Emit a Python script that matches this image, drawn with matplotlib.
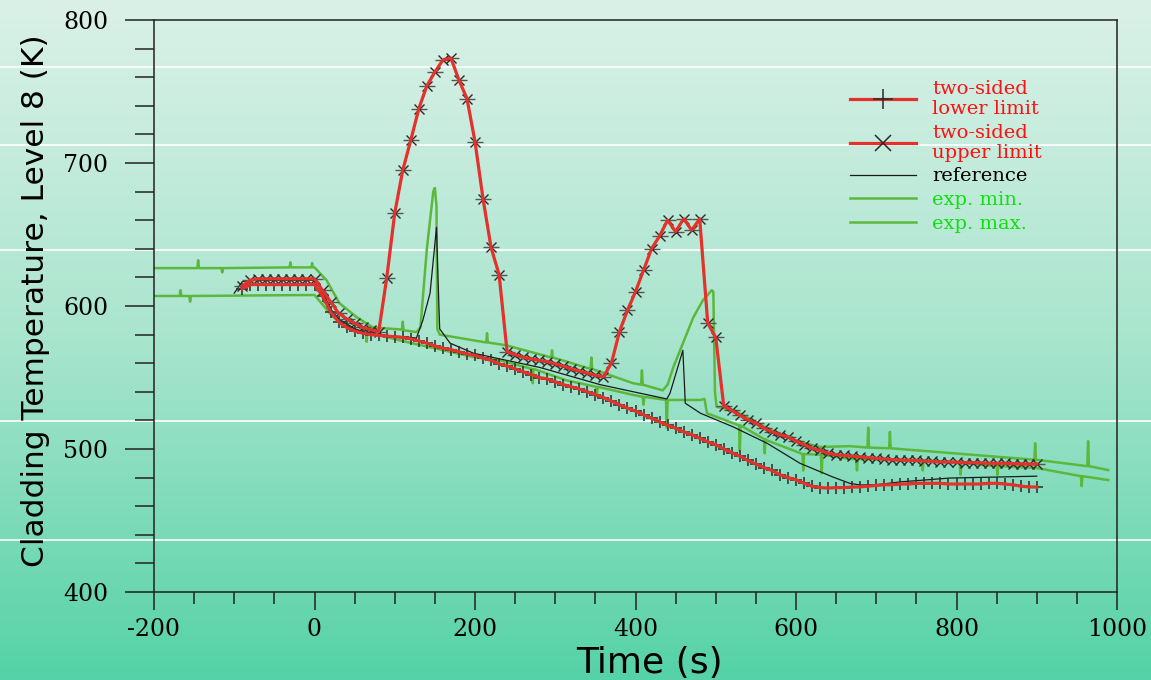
import numpy as np
import matplotlib
matplotlib.use("Agg")
import matplotlib.pyplot as plt
from matplotlib.lines import Line2D
from matplotlib.ticker import MultipleLocator
from matplotlib.colors import LinearSegmentedColormap

# ---- data ----
# two-sided limits, sampled every 10 s from -90 s to 900 s
lim_time = list(range(-90, 901, 10))
lower_limit = [
    612, 615, 615, 615, 615, 615, 615, 615, 615, 615,
    607, 596, 589, 585, 582.5, 581, 580, 579.5, 579, 578.5,
    578, 577, 575.5, 574, 572, 570.5, 569.5, 568, 566.5, 565.5,
    563.5, 562, 559.5, 558, 556, 554, 552, 550, 549, 547,
    545, 543.5, 542, 540, 538, 536, 533.5, 531, 528.5, 526.5,
    524, 521.5, 519, 516.5, 514.5, 512, 510, 507.5, 505, 503,
    500, 497.5, 495, 492, 489.5, 487, 485, 482, 480, 478.5,
    476, 474, 473, 472.7, 473, 473, 473.4, 473.5, 474, 474.5,
    475, 475, 475.5, 475.5, 476, 476, 476, 476, 475.5, 475.5,
    475.5, 475.5, 475.5, 476, 476, 475.5, 475, 474, 473.5, 473.4,
]
upper_limit = [
    614, 618, 619, 619, 619, 619, 619, 619, 619, 619,
    611, 603, 595, 591, 588, 585, 583.5, 582, 619.6, 665,
    695, 716, 738, 754, 763.6, 772, 773.4, 758, 745, 715,
    675, 641, 622, 568, 566, 564, 563, 562, 561, 559.5,
    558, 556, 554.5, 553, 551.5, 550.5, 560, 582, 597, 610,
    625, 640, 649, 660, 652, 661, 653, 661, 588, 578,
    530, 527, 523.5, 520.5, 518, 514.5, 512, 510, 508.5, 505.5,
    503, 500.5, 499, 497, 496, 495.5, 495, 494.5, 494, 493.5,
    493, 492.5, 492.3, 492, 492, 491.5, 491.3, 491, 491, 490.8,
    490.5, 490.5, 490.3, 490, 490, 490, 489.8, 489.6, 489.5, 489.5,
]

# reference calculation
ref_time = [-100, -90, -80, 0, 10, 20, 30, 50, 73, 100, 127, 135, 144, 152,
            155, 156, 169, 198, 231, 281, 356, 439, 443, 459, 461, 462, 481,
            522, 564, 605, 646, 667, 680, 700, 730, 792, 900]
ref_temp = [609, 617, 618, 618, 610, 598, 591, 584, 580, 579, 577.6, 590, 609, 655,
            600, 584, 574, 567, 563, 557, 545, 535, 539, 569, 545, 532, 525,
            515.4, 504, 490, 480.4, 476, 474.8, 475, 477, 479.7, 481]

# experiment, curve starting high (with its visible noise spikes)
expa_time = [-200, -146, -145, -144, -116, -115, -114, -31, -30, -29, -4, -3, -2,
             0, 15, 31, 53, 73, 109, 110, 111, 127, 132, 140, 148, 150, 152, 153,
             156, 198, 214, 215, 216, 239, 295, 296, 297, 344, 345, 346, 397,
             407, 408, 409, 434, 440, 447, 472, 484, 495, 497, 499, 501, 522,
             543, 564, 597, 630, 667, 689, 690, 691, 716, 717, 718, 792, 897,
             898, 899, 963, 964, 965, 989]
expa_temp = [626.5, 626.5, 632, 626.5, 626.5, 623.5, 626.5, 627, 630.5, 627, 627, 630, 627,
             627, 618, 602, 592, 585, 583.5, 589, 583, 581.8, 585, 640, 680, 682.5, 670, 584,
             580, 576, 574.5, 581, 574.5, 572.5, 564, 569, 564, 556, 564, 556, 546,
             545, 555, 545, 541, 545, 557, 592, 604, 611, 610, 540, 529.5, 527.3,
             521, 514.7, 506.3, 501.4, 502, 501, 515, 501, 500.5, 512, 500.5, 497.2, 492.5,
             504, 492.5, 488, 505.5, 488, 485.3]

# experiment, curve starting low
expb_time = [-200, -168, -167, -166, -156, -155, -154, 0, 23, 53, 64, 65, 66, 115,
             198, 231, 271, 272, 273, 314, 351, 352, 353, 397, 409, 410, 411,
             438, 439, 440, 481, 486, 489, 522, 529, 530, 531, 560, 561, 562,
             564, 605, 608, 609, 610, 631, 632, 633, 667, 675, 676, 677, 750,
             757, 758, 759, 804, 805, 806, 833, 850, 851, 852, 900, 955, 956,
             957, 989]
expb_temp = [607, 607, 611, 607, 607, 603, 607, 607.7, 592.3, 583, 581.5, 575, 581.5, 574.8,
             564.3, 562, 556, 546, 556, 548, 543.5, 537, 543.5, 537.8, 536.5, 531, 536.5,
             534.3, 515, 534.3, 534.3, 535, 525, 518, 516.5, 499, 516.5, 507, 497, 507,
             506, 497.2, 496.5, 485, 496.5, 496, 483, 496, 493, 493, 485, 493, 492.3,
             492, 485, 492, 490.5, 482, 490.5, 488.8, 488, 482, 488, 486.7, 481, 474,
             481, 478.3]

legend_labels = ["two-sided\nlower limit", "two-sided\nupper limit", "reference",
                 "exp. min.", "exp. max."]

RED = "#e4312b"
GREEN = "#5cb83c"
MARK = "#2a2a2a"

plt.rcParams["font.family"] = "DejaVu Serif"
plt.rcParams["axes.unicode_minus"] = False

W, H = 1151, 680
fig = plt.figure(figsize=(W / 100, H / 100), dpi=100)

# gradient backdrop with the faint white bands
bg = fig.add_axes([0, 0, 1, 1], zorder=0)
cmap = LinearSegmentedColormap.from_list("bg", ["#dbf1e8", "#a9e5ce", "#55d2a7"])
bg.imshow(np.linspace(0, 1, 256).reshape(-1, 1), aspect="auto", cmap=cmap,
          extent=[0, 1, 0, 1], origin="upper")
for ypx in [67, 145, 250, 421, 540]:
    bg.axhline(1 - ypx / H, color="white", lw=1.2)
bg.set_xlim(0, 1)
bg.set_ylim(0, 1)
bg.axis("off")

ax = fig.add_axes([154 / W, 1 - 592 / H, 963 / W, 572 / H], zorder=1)
ax.set_facecolor("none")

ax.plot(expa_time, expa_temp, color=GREEN, lw=1.8, zorder=2)
ax.plot(expb_time, expb_temp, color=GREEN, lw=1.8, zorder=2)
ax.plot(ref_time, ref_temp, color="#1a1a1a", lw=0.9, zorder=3)

ax.plot(lim_time, lower_limit, ls="none", marker="+", ms=9, mec=MARK, mew=1.1, zorder=4)
ax.plot(lim_time, upper_limit, ls="none", marker="_", ms=12, mec="#555555", mew=1.0, zorder=4)
ax.plot(lim_time, upper_limit, ls="none", marker="x", ms=7, mec=MARK, mew=1.0, zorder=4)
ax.plot(lim_time, lower_limit, color=RED, lw=2.3, zorder=5)
ax.plot(lim_time, upper_limit, color=RED, lw=2.3, zorder=5)

ax.set_xlim(-200, 1000)
ax.set_ylim(400, 800)
ax.set_xticks(range(-200, 1001, 200))
ax.set_yticks(range(400, 801, 100))
ax.xaxis.set_minor_locator(MultipleLocator(50))
ax.yaxis.set_minor_locator(MultipleLocator(20))
ax.tick_params(axis="both", which="both", direction="out", color="#222222",
               width=1.1, labelsize=17)
ax.tick_params(axis="y", which="major", length=21, pad=12)
ax.tick_params(axis="y", which="minor", length=14)
ax.tick_params(axis="x", which="major", length=13, pad=6)
ax.tick_params(axis="x", which="minor", length=8.5)
for side in ["left", "right", "top", "bottom"]:
    ax.spines[side].set_color("#222222")
    ax.spines[side].set_linewidth(1.1)

ax.set_ylabel("Cladding Temperature, Level 8 (K)", family="DejaVu Sans", size=22.5)
ax.yaxis.set_label_coords(-0.108, 0.509)
ax.set_xlabel("Time (s)", family="DejaVu Sans", size=26)
ax.xaxis.set_label_coords(0.514, -0.094)

handles = [
    Line2D([], [], color=RED, lw=2.3, marker="+", ms=15, mec=MARK, mew=1.1),
    Line2D([], [], color=RED, lw=2.3, marker="x", ms=11, mec=MARK, mew=1.1),
    Line2D([], [], color="#1a1a1a", lw=0.9),
    Line2D([], [], color=GREEN, lw=1.8),
    Line2D([], [], color=GREEN, lw=1.8),
]
leg = ax.legend(handles, legend_labels, loc="upper left", bbox_to_anchor=(0.715, 0.908),
                frameon=False, fontsize=14, handlelength=3.4, handletextpad=0.8,
                labelspacing=0.3, borderaxespad=0)
for txt, col in zip(leg.get_texts(), ["#ff1010", "#ff1010", "black", "#10e010", "#10e010"]):
    txt.set_color(col)
    txt.set_linespacing(1.12)

fig.savefig("out.png", dpi=100)
